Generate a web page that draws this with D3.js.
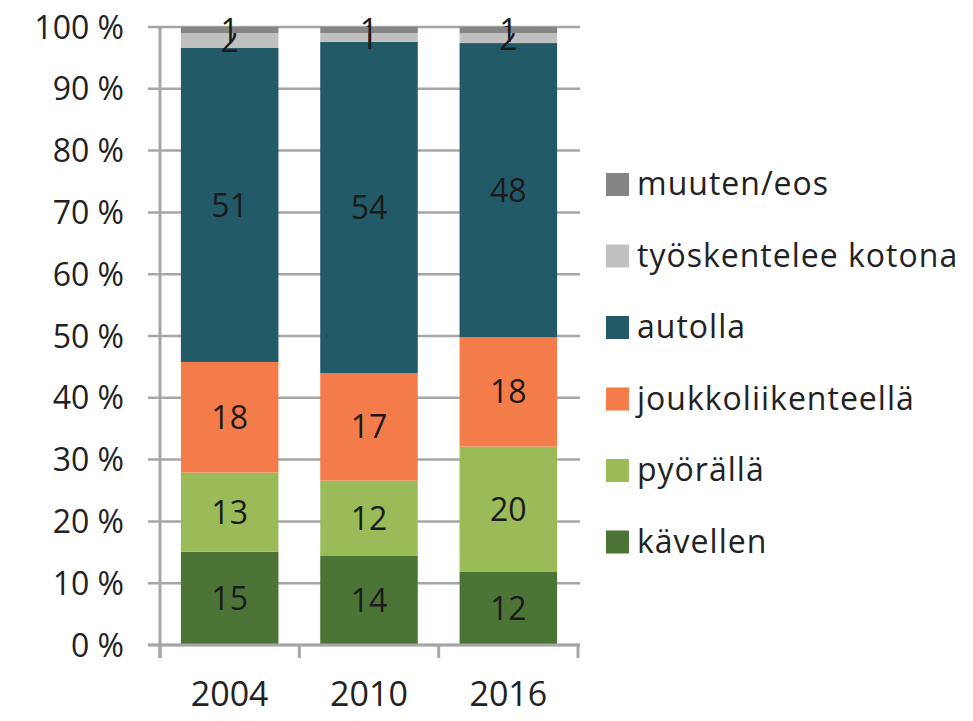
<!DOCTYPE html>
<html>
<head>
<meta charset="utf-8">
<script src="https://cdn.jsdelivr.net/npm/d3@7"></script>
<style>
  body { margin: 0; background: #fff; }
  text { font-family: "Open Sans", sans-serif; fill: #222; }
</style>
</head>
<body>
<script>
// data
const years = ["2004", "2010", "2016"];
const series = ["kävellen", "pyörällä", "joukkoliikenteellä", "autolla", "työskentelee kotona", "muuten/eos"];
const kavellen = [15.1, 14.4, 11.9];
const pyoralla = [12.8, 12.2, 20.2];
const joukko   = [17.9, 17.4, 17.7];
const autolla  = [50.8, 53.6, 47.6];
const kotona   = [2.4, 1.4, 1.6];
const muuten   = [1.0, 1.0, 1.0];
const yTicks = [0, 10, 20, 30, 40, 50, 60, 70, 80, 90, 100];
const colors = ["#4b7436", "#9bbb59", "#f47c4a", "#225a68", "#c0c0c0", "#858585"];

const valuesBySeries = [kavellen, pyoralla, joukko, autolla, kotona, muuten];
const rows = years.map(function(y, i) {
  const r = { year: y };
  series.forEach(function(s, j) { r[s] = valuesBySeries[j][i]; });
  return r;
});

const width = 973, height = 721;
const svg = d3.select("body").append("svg")
  .attr("width", width)
  .attr("height", height);

const x = d3.scaleBand()
  .domain(years)
  .range([160, 578])
  .paddingInner(0.3)
  .paddingOuter(0.15);

const y = d3.scaleLinear()
  .domain([0, 100])
  .range([645, 27]);

const color = d3.scaleOrdinal().domain(series).range(colors);

const stacked = d3.stack().keys(series)(rows);

// gridlines
svg.append("g")
  .selectAll("line")
  .data(yTicks)
  .enter().append("line")
  .attr("x1", 148)
  .attr("x2", 580)
  .attr("y1", function(d) { return y(d); })
  .attr("y2", function(d) { return y(d); })
  .style("stroke", "#a6a6a6")
  .style("stroke-width", 2.5);

// y tick labels
svg.append("g")
  .selectAll("text")
  .data(yTicks)
  .enter().append("text")
  .attr("x", 124)
  .attr("y", function(d) { return y(d); })
  .attr("dy", "0.36em")
  .attr("text-anchor", "end")
  .style("font-size", "32px")
  .text(function(d) { return d + " %"; });

// bars
const layer = svg.selectAll(".layer")
  .data(stacked)
  .enter().append("g")
  .attr("class", "layer")
  .style("fill", function(d) { return color(d.key); });

layer.selectAll("rect")
  .data(function(d) { return d; })
  .enter().append("rect")
  .attr("x", function(d) { return x(d.data.year); })
  .attr("y", function(d) { return y(d[1]); })
  .attr("width", x.bandwidth())
  .attr("height", function(d) { return y(d[0]) - y(d[1]); });

// value labels
layer.selectAll("text")
  .data(function(d) { return d; })
  .enter().append("text")
  .attr("x", function(d) { return x(d.data.year) + x.bandwidth() / 2; })
  .attr("y", function(d) { return (y(d[0]) + y(d[1])) / 2; })
  .attr("dy", "0.36em")
  .attr("text-anchor", "middle")
  .style("font-size", "32px")
  .style("fill", "#1a1a1a")
  .text(function(d) { return Math.round(d[1] - d[0]); });

// axes lines
svg.append("line")
  .attr("x1", 160).attr("x2", 160)
  .attr("y1", y(100)).attr("y2", 658)
  .style("stroke", "#a6a6a6")
  .style("stroke-width", 3);

svg.append("line")
  .attr("x1", 148).attr("x2", 580)
  .attr("y1", y(0)).attr("y2", y(0))
  .style("stroke", "#a6a6a6")
  .style("stroke-width", 3);

const bounds = [x.range()[0]].concat(years.map(function(d) {
  return x(d) + x.bandwidth() + x.step() * x.paddingInner() / 2;
}));
bounds[bounds.length - 1] = x.range()[1];

svg.append("g")
  .selectAll("line")
  .data(bounds)
  .enter().append("line")
  .attr("x1", function(d) { return d; })
  .attr("x2", function(d) { return d; })
  .attr("y1", y(0))
  .attr("y2", 658)
  .style("stroke", "#a6a6a6")
  .style("stroke-width", 3);

// x labels
svg.append("g")
  .selectAll("text")
  .data(years)
  .enter().append("text")
  .attr("x", function(d) { return x(d) + x.bandwidth() / 2; })
  .attr("y", 706)
  .attr("text-anchor", "middle")
  .style("font-size", "34px")
  .text(function(d) { return d; });

// legend
const legendOrder = series.slice().reverse();
const legend = svg.selectAll(".legend")
  .data(legendOrder)
  .enter().append("g")
  .attr("class", "legend")
  .attr("transform", function(d, i) { return "translate(606," + (184 + i * 71.5) + ")"; });

legend.append("rect")
  .attr("x", 0)
  .attr("y", -11)
  .attr("width", 23)
  .attr("height", 23)
  .style("fill", color);

legend.append("text")
  .attr("x", 31)
  .attr("y", 0)
  .attr("dy", "0.35em")
  .style("font-size", "32px")
  .style("letter-spacing", "1px")
  .text(function(d) { return d; });
</script>
</body>
</html>
